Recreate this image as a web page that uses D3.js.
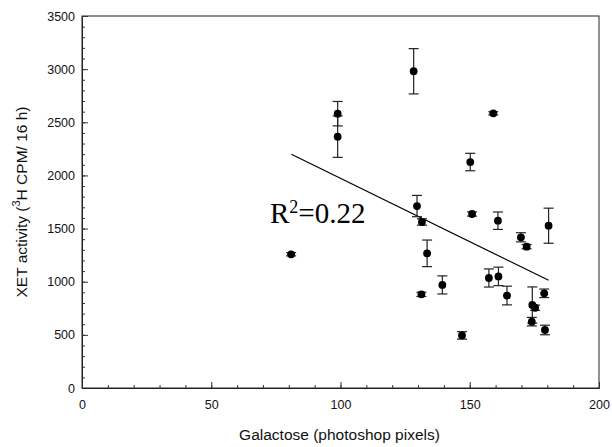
<!DOCTYPE html>
<html>
<head>
<meta charset="utf-8">
<script src="https://cdn.jsdelivr.net/npm/d3@7"></script>
<style>
  body { margin: 0; background: #fff; }
  svg { display: block; }
</style>
</head>
<body>
<div id="chart_area"></div>
<script>
// data
var galactose = [80.9, 98.9, 98.9, 128.3, 129.6, 131.5, 133.5, 131.3, 139.4, 147.0, 150.9, 150.2,
                 159.1, 157.4, 161.1, 160.9, 164.4, 169.8, 172.0, 174.2, 175.3, 174.0, 178.8, 179.1, 180.5];
var xetActivity = [1258, 2581, 2365, 2980, 1712, 1562, 1267, 881, 970, 495, 1637, 2126,
                   2584, 1035, 1050, 1574, 870, 1418, 1330, 781, 755, 624, 891, 546, 1527];
var xetError = [15, 115, 195, 213, 100, 30, 125, 20, 85, 35, 20, 82,
                15, 85, 87, 82, 88, 43, 20, 170, 25, 40, 40, 45, 165];
var fitX = [81, 180.5];
var fitY = [2200, 1013];
var xTicks = [0, 50, 100, 150, 200];
var yTicks = [0, 500, 1000, 1500, 2000, 2500, 3000, 3500];
var xMinor = d3.range(0, 201, 10);
var yMinor = d3.range(0, 3501, 100);

var W = 612, H = 447;
var margin = {left: 82, top: 16, right: 13, bottom: 59};
var w = W - margin.left - margin.right;
var h = H - margin.top - margin.bottom;

var svg = d3.select("#chart_area")
    .append("svg")
    .attr("width", W)
    .attr("height", H);

var g = svg.append("g")
    .attr("transform", "translate(" + margin.left + "," + margin.top + ")");

var x = d3.scaleLinear().domain([0, 200]).range([0, w]);
var y = d3.scaleLinear().domain([0, 3500]).range([h, 0]);

// frame
g.append("rect")
    .attr("width", w)
    .attr("height", h)
    .attr("fill", "none")
    .attr("stroke", "#222")
    .attr("stroke-width", 1);

// minor ticks
g.append("g")
    .call(d3.axisLeft(y).tickValues(yMinor).tickSizeInner(-3).tickSizeOuter(0).tickFormat(""));
g.append("g")
    .attr("transform", "translate(0," + h + ")")
    .call(d3.axisBottom(x).tickValues(xMinor).tickSizeInner(-3).tickSizeOuter(0).tickFormat(""));

// major ticks
g.append("g")
    .call(d3.axisLeft(y).tickValues(yTicks).tickFormat(d3.format("d"))
        .tickSizeInner(-6).tickSizeOuter(0).tickPadding(7));
g.append("g")
    .attr("transform", "translate(0," + h + ")")
    .call(d3.axisBottom(x).tickValues(xTicks).tickFormat(d3.format("d"))
        .tickSizeInner(-6).tickSizeOuter(0).tickPadding(12));

g.selectAll(".domain").attr("stroke", "#222");
g.selectAll(".tick line").attr("stroke", "#333");
g.selectAll(".tick text")
    .attr("font-family", "Liberation Sans, Arial, sans-serif")
    .attr("font-size", 12.5)
    .attr("fill", "#111");

// regression line
g.append("line")
    .attr("x1", x(fitX[0]))
    .attr("y1", y(fitY[0]))
    .attr("x2", x(fitX[1]))
    .attr("y2", y(fitY[1]))
    .attr("stroke", "#000")
    .attr("stroke-width", 1.2);

// error bars
var pts = galactose.map(function(d, i) {
    return {gx: d, v: xetActivity[i], e: xetError[i]};
});
var eb = g.selectAll(".err").data(pts).enter().append("g").attr("class", "err");
eb.append("line")
    .attr("x1", function(d) { return x(d.gx); })
    .attr("x2", function(d) { return x(d.gx); })
    .attr("y1", function(d) { return y(d.v + d.e); })
    .attr("y2", function(d) { return y(d.v - d.e); })
    .attr("stroke", "#222")
    .attr("stroke-width", 1.2);
eb.append("line")
    .attr("x1", function(d) { return x(d.gx) - 5; })
    .attr("x2", function(d) { return x(d.gx) + 5; })
    .attr("y1", function(d) { return y(d.v + d.e); })
    .attr("y2", function(d) { return y(d.v + d.e); })
    .attr("stroke", "#222")
    .attr("stroke-width", 1.2);
eb.append("line")
    .attr("x1", function(d) { return x(d.gx) - 5; })
    .attr("x2", function(d) { return x(d.gx) + 5; })
    .attr("y1", function(d) { return y(d.v - d.e); })
    .attr("y2", function(d) { return y(d.v - d.e); })
    .attr("stroke", "#222")
    .attr("stroke-width", 1.2);

// dots
g.selectAll(".dot").data(pts).enter().append("circle")
    .attr("class", "dot")
    .attr("cx", function(d) { return x(d.gx); })
    .attr("cy", function(d) { return y(d.v); })
    .attr("r", 3.9)
    .attr("fill", "#000");

// R squared
var r2 = svg.append("text")
    .attr("x", 270)
    .attr("y", 223)
    .attr("font-family", "Liberation Serif, Times New Roman, serif")
    .attr("font-size", 29)
    .attr("fill", "#000");
r2.append("tspan").text("R");
r2.append("tspan").attr("dy", -10).attr("font-size", 18).text("2");
r2.append("tspan").attr("dy", 10).text("=0.22");

// axis titles
svg.append("text")
    .attr("x", margin.left + w / 2 - 1)
    .attr("y", 440)
    .attr("text-anchor", "middle")
    .attr("font-family", "Liberation Sans, Arial, sans-serif")
    .attr("font-size", 15.5)
    .attr("fill", "#111")
    .text("Galactose (photoshop pixels)");

var yt = svg.append("text")
    .attr("transform", "translate(27," + (margin.top + h / 2) + ") rotate(-90)")
    .attr("text-anchor", "middle")
    .attr("font-family", "Liberation Sans, Arial, sans-serif")
    .attr("font-size", 15.5)
    .attr("fill", "#111");
yt.append("tspan").text("XET activity (");
yt.append("tspan").attr("dy", -7).attr("font-size", 11).text("3");
yt.append("tspan").attr("dy", 7).text("H CPM/ 16 h)");
</script>
</body>
</html>
